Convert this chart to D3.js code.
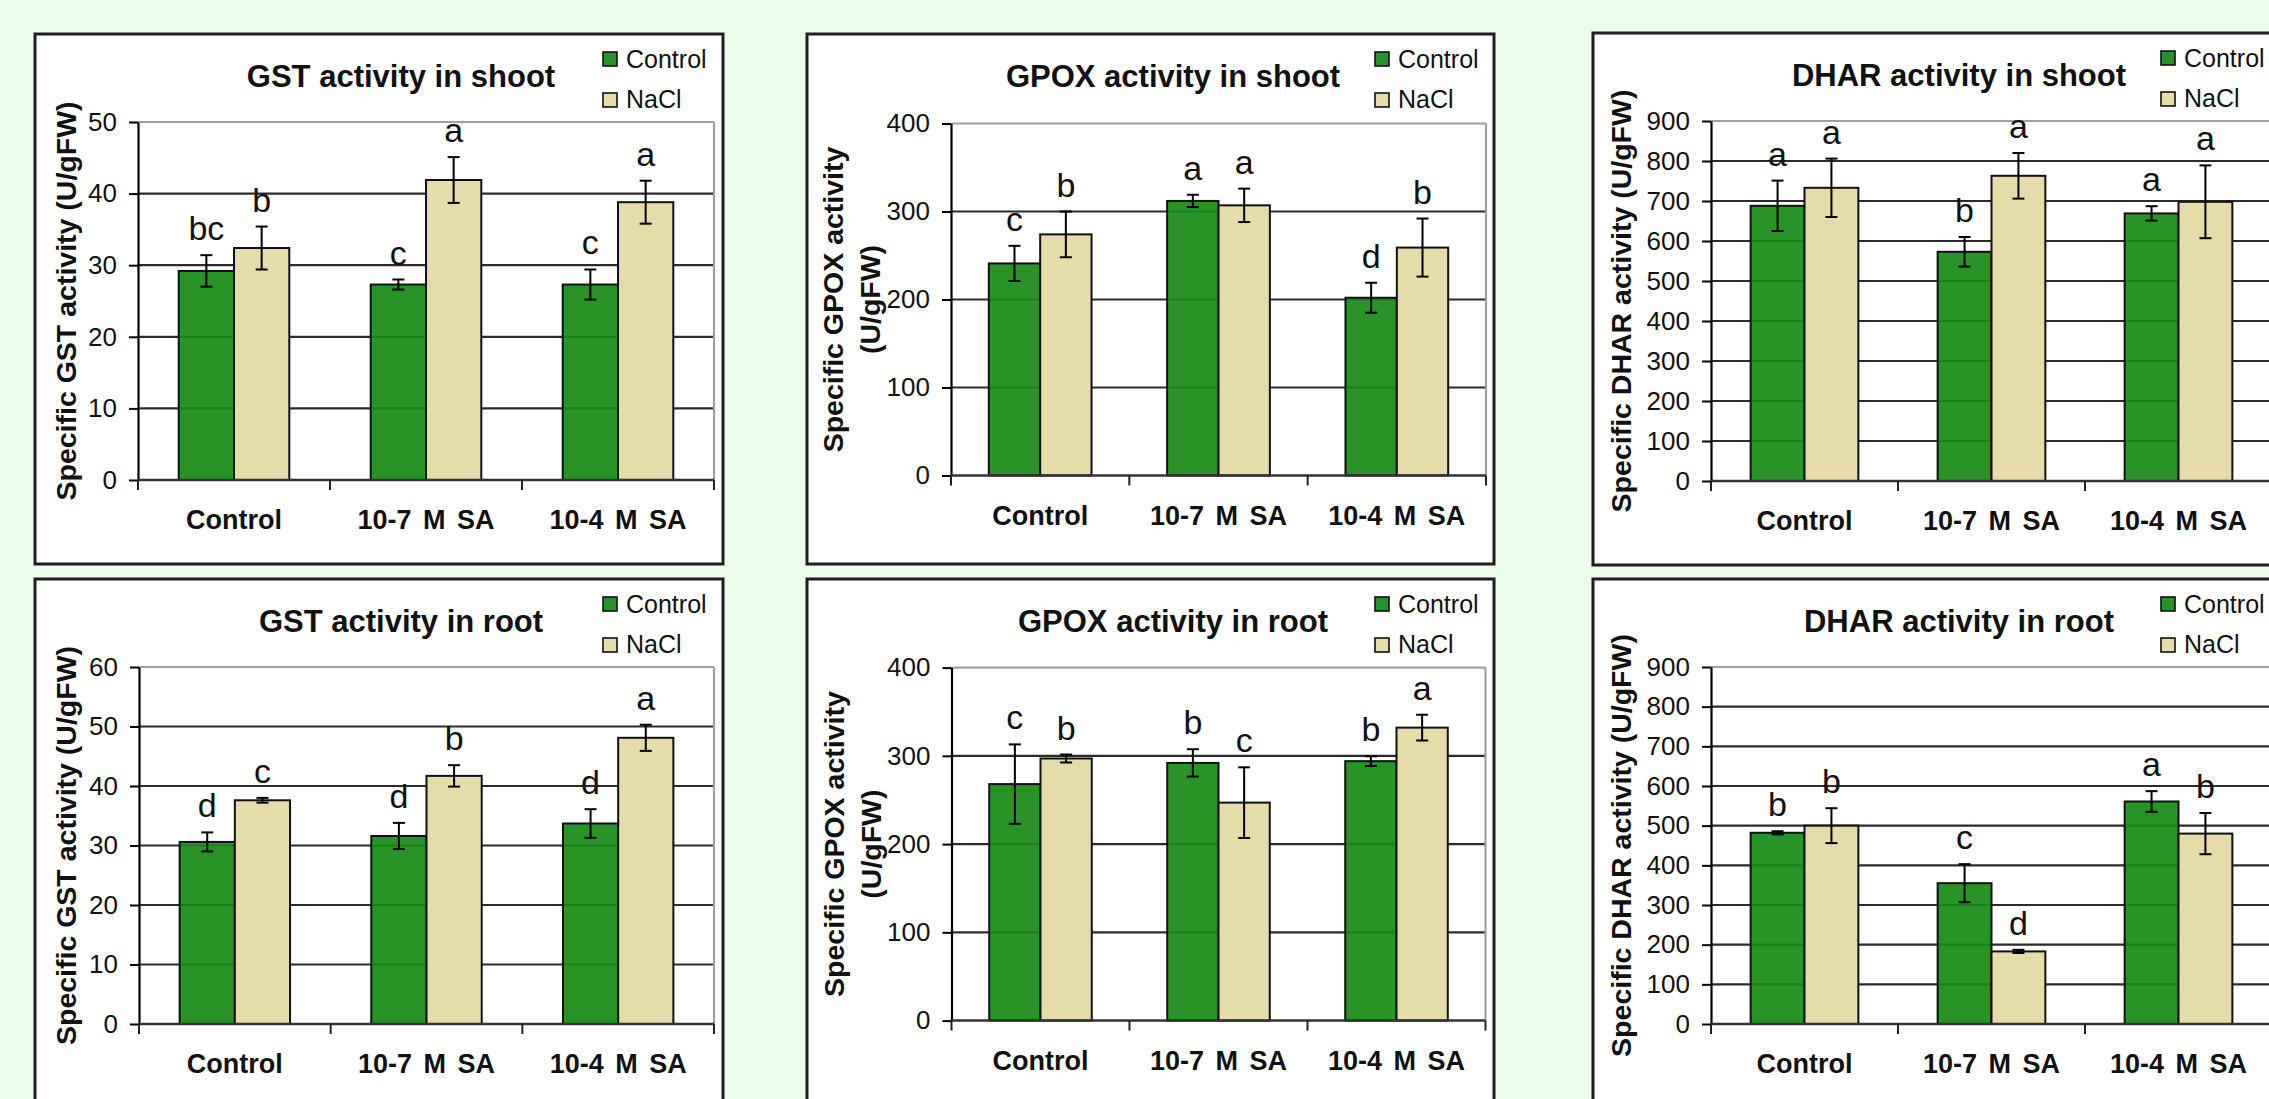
<!DOCTYPE html>
<html><head><meta charset="utf-8">
<script src="https://cdn.jsdelivr.net/npm/d3@7"></script>
<style>
html,body{margin:0;padding:0;background:#ebfcea;overflow:hidden;}
svg{display:block;}
text{font-family:"Liberation Sans", Arial, Helvetica, sans-serif;}
</style></head><body>
<svg id="chart" width="2269" height="1099"></svg>
<script>
// ---------- DATA ----------
const categories = ["Control", "10-7 M SA", "10-4 M SA"];
const seriesNames = ["Control", "NaCl"];

// GST activity in shoot
const gstShootTicks = [0, 10, 20, 30, 40, 50];
const gstShootControl = [29.2, 27.3, 27.3];
const gstShootNaCl = [32.4, 41.9, 38.8];
const gstShootControlErr = [2.2, 0.7, 2.1];
const gstShootNaClErr = [3.0, 3.2, 3.0];
const gstShootControlLetters = ["bc", "c", "c"];
const gstShootNaClLetters = ["b", "a", "a"];

// GPOX activity in shoot
const gpoxShootTicks = [0, 100, 200, 300, 400];
const gpoxShootControl = [241, 312, 202];
const gpoxShootNaCl = [274, 307, 259];
const gpoxShootControlErr = [20, 7, 17];
const gpoxShootNaClErr = [26, 19, 33];
const gpoxShootControlLetters = ["c", "a", "d"];
const gpoxShootNaClLetters = ["b", "a", "b"];

// DHAR activity in shoot
const dharShootTicks = [0, 100, 200, 300, 400, 500, 600, 700, 800, 900];
const dharShootControl = [688, 573, 669];
const dharShootNaCl = [733, 763, 698];
const dharShootControlErr = [63, 37, 18];
const dharShootNaClErr = [73, 57, 91];
const dharShootControlLetters = ["a", "b", "a"];
const dharShootNaClLetters = ["a", "a", "a"];

// GST activity in root
const gstRootTicks = [0, 10, 20, 30, 40, 50, 60];
const gstRootControl = [30.6, 31.6, 33.7];
const gstRootNaCl = [37.6, 41.7, 48.1];
const gstRootControlErr = [1.6, 2.2, 2.4];
const gstRootNaClErr = [0.4, 1.8, 2.2];
const gstRootControlLetters = ["d", "d", "d"];
const gstRootNaClLetters = ["c", "b", "a"];

// GPOX activity in root
const gpoxRootTicks = [0, 100, 200, 300, 400];
const gpoxRootControl = [268, 292, 294];
const gpoxRootNaCl = [297, 247, 332];
const gpoxRootControlErr = [45, 15.5, 5.5];
const gpoxRootNaClErr = [4.5, 40, 14.6];
const gpoxRootControlLetters = ["c", "b", "b"];
const gpoxRootNaClLetters = ["b", "c", "a"];

// DHAR activity in root
const dharRootTicks = [0, 100, 200, 300, 400, 500, 600, 700, 800, 900];
const dharRootControl = [482, 355, 561];
const dharRootNaCl = [500, 183, 480];
const dharRootControlErr = [4, 48, 26];
const dharRootNaClErr = [44, 4, 52];
const dharRootControlLetters = ["b", "c", "a"];
const dharRootNaClLetters = ["b", "d", "b"];

const titles = ["GST activity in shoot", "GPOX activity in shoot", "DHAR activity in shoot",
                "GST activity in root", "GPOX activity in root", "DHAR activity in root"];
const yLabels = [
  ["Specific GST activity (U/gFW)"],
  ["Specific GPOX activity", "(U/gFW)"],
  ["Specific DHAR activity (U/gFW)"],
  ["Specific GST activity (U/gFW)"],
  ["Specific GPOX activity", "(U/gFW)"],
  ["Specific DHAR activity (U/gFW)"]
];

// ---------- LAYOUT ----------
const layout = [
  {frame:{x:35, y:34, w:688, h:530},  plot:{x:138, y:122, w:576, h:358},   yl:[-62]},
  {frame:{x:807, y:34, w:687, h:530}, plot:{x:951, y:123.5, w:535, h:352}, yl:[-108, -71]},
  {frame:{x:1593, y:33, w:760, h:532},plot:{x:1711, y:121, w:561, h:360},  yl:[-80]},
  {frame:{x:35, y:579, w:688, h:600}, plot:{x:139, y:667, w:575, h:357},   yl:[-63]},
  {frame:{x:807, y:579, w:687, h:600},plot:{x:951.5, y:667.6, w:534, h:353}, yl:[-108, -71]},
  {frame:{x:1593, y:579, w:760, h:600},plot:{x:1711, y:667, w:561, h:357}, yl:[-80]}
];

const panelData = [
  {ticks:gstShootTicks, c:gstShootControl, n:gstShootNaCl, ce:gstShootControlErr, ne:gstShootNaClErr, cl:gstShootControlLetters, nl:gstShootNaClLetters},
  {ticks:gpoxShootTicks, c:gpoxShootControl, n:gpoxShootNaCl, ce:gpoxShootControlErr, ne:gpoxShootNaClErr, cl:gpoxShootControlLetters, nl:gpoxShootNaClLetters},
  {ticks:dharShootTicks, c:dharShootControl, n:dharShootNaCl, ce:dharShootControlErr, ne:dharShootNaClErr, cl:dharShootControlLetters, nl:dharShootNaClLetters},
  {ticks:gstRootTicks, c:gstRootControl, n:gstRootNaCl, ce:gstRootControlErr, ne:gstRootNaClErr, cl:gstRootControlLetters, nl:gstRootNaClLetters},
  {ticks:gpoxRootTicks, c:gpoxRootControl, n:gpoxRootNaCl, ce:gpoxRootControlErr, ne:gpoxRootNaClErr, cl:gpoxRootControlLetters, nl:gpoxRootNaClLetters},
  {ticks:dharRootTicks, c:dharRootControl, n:dharRootNaCl, ce:dharRootControlErr, ne:dharRootNaClErr, cl:dharRootControlLetters, nl:dharRootNaClLetters}
];

const colors = {Control:"#178a15", NaCl:"#e6dcaa"};
const legendColors = {Control:"#2a922a", NaCl:"#e6dcaa"};
const svg = d3.select("#chart");

panelData.forEach((pd, idx) => {
  const L = layout[idx];
  const f = L.frame, p = L.plot;
  const g = svg.append("g");

  g.append("rect").attr("x", f.x).attr("y", f.y).attr("width", f.w).attr("height", f.h)
    .attr("fill", "#fff").attr("stroke", "#1e1e1e").attr("stroke-width", 3);

  const ymax = d3.max(pd.ticks);
  const y = d3.scaleLinear().domain([0, ymax]).range([p.y + p.h, p.y]);
  const x0 = d3.scaleBand().domain(categories).range([p.x, p.x + p.w]).paddingInner(0).paddingOuter(0);
  const x1 = d3.scaleBand().domain(seriesNames).range([0, x0.bandwidth()]).paddingInner(0).paddingOuter(0.736);

  // gridlines
  g.selectAll(".grid").data(pd.ticks.filter(t => t > 0)).join("line")
    .attr("x1", p.x).attr("x2", p.x + p.w)
    .attr("y1", d => y(d)).attr("y2", d => y(d))
    .attr("stroke", d => d === ymax ? "#a0a0a0" : "#2b2b2b")
    .attr("stroke-width", 2.2);
  // right border
  g.append("line").attr("x1", p.x + p.w).attr("x2", p.x + p.w).attr("y1", y(ymax)).attr("y2", y(0))
    .attr("stroke", "#a0a0a0").attr("stroke-width", 2.2);

  // bars
  const rows = [];
  categories.forEach((cat, i) => {
    rows.push({cat, s:"Control", v:pd.c[i], e:pd.ce[i], l:pd.cl[i]});
    rows.push({cat, s:"NaCl", v:pd.n[i], e:pd.ne[i], l:pd.nl[i]});
  });
  g.selectAll(".bar").data(rows).join("rect")
    .attr("x", d => x0(d.cat) + x1(d.s))
    .attr("width", x1.bandwidth())
    .attr("y", d => y(d.v))
    .attr("height", d => y(0) - y(d.v))
    .attr("fill", d => colors[d.s])
    .attr("fill-opacity", d => d.s === "Control" ? 0.92 : 1)
    .attr("stroke", "#111").attr("stroke-width", 2);

  // error bars
  const cx = d => x0(d.cat) + x1(d.s) + x1.bandwidth() / 2;
  const eg = g.selectAll(".err").data(rows).join("g");
  eg.append("line").attr("x1", cx).attr("x2", cx)
    .attr("y1", d => y(d.v + d.e)).attr("y2", d => y(d.v - d.e))
    .attr("stroke", "#000").attr("stroke-width", 2);
  eg.append("line").attr("x1", d => cx(d) - 6).attr("x2", d => cx(d) + 6)
    .attr("y1", d => y(d.v + d.e)).attr("y2", d => y(d.v + d.e))
    .attr("stroke", "#000").attr("stroke-width", 2);
  eg.append("line").attr("x1", d => cx(d) - 6).attr("x2", d => cx(d) + 6)
    .attr("y1", d => y(d.v - d.e)).attr("y2", d => y(d.v - d.e))
    .attr("stroke", "#000").attr("stroke-width", 2);

  // significance letters
  g.selectAll(".let").data(rows).join("text")
    .attr("x", cx).attr("y", d => y(d.v + d.e) - 15)
    .attr("text-anchor", "middle").attr("font-size", 34).attr("fill", "#111")
    .text(d => d.l);

  // y axis
  const ya = g.append("g").attr("transform", `translate(${p.x},0)`)
    .call(d3.axisLeft(y).tickValues(pd.ticks).tickSize(9).tickSizeOuter(0).tickPadding(12).tickFormat(d3.format("d")));
  ya.select(".domain").attr("stroke", "#000").attr("stroke-width", 2.2);
  ya.selectAll(".tick line").attr("stroke", "#000").attr("stroke-width", 2);
  ya.selectAll(".tick text").attr("font-size", 26).attr("fill", "#111")
    .style("font-family", '"Liberation Sans", Arial, sans-serif');

  // x axis line + boundary ticks
  g.append("line").attr("x1", p.x).attr("x2", p.x + p.w).attr("y1", y(0)).attr("y2", y(0))
    .attr("stroke", "#333").attr("stroke-width", 2.5);
  const bounds = categories.map(c => x0(c)).concat([x0(categories[categories.length - 1]) + x0.bandwidth()]);
  g.selectAll(".xt").data(bounds).join("line")
    .attr("x1", d => d).attr("x2", d => d).attr("y1", y(0)).attr("y2", y(0) + 10)
    .attr("stroke", "#222").attr("stroke-width", 2);
  g.selectAll(".xl").data(categories).join("text")
    .attr("x", d => x0(d) + x0.bandwidth() / 2).attr("y", y(0) + 49)
    .attr("text-anchor", "middle").attr("font-size", 27).attr("font-weight", "bold")
    .attr("fill", "#111").style("word-spacing", "4px")
    .text(d => d);

  // title
  g.append("text").attr("x", f.x + 366).attr("y", f.y + 53)
    .attr("text-anchor", "middle").attr("font-size", 31).attr("font-weight", "bold").attr("fill", "#111")
    .text(titles[idx]);

  // y label
  const cy = p.y + p.h / 2;
  yLabels[idx].forEach((txt, li) => {
    const bx = p.x + L.yl[li];
    g.append("text").attr("transform", `translate(${bx},${cy}) rotate(-90)`)
      .attr("text-anchor", "middle").attr("font-size", 28.5).attr("font-weight", "bold").attr("fill", "#111")
      .text(txt);
  });

  // legend
  seriesNames.forEach((s, si) => {
    g.append("rect").attr("x", f.x + 568).attr("y", f.y + 18 + si * 41).attr("width", 14).attr("height", 14)
      .attr("fill", legendColors[s]).attr("stroke", "#111").attr("stroke-width", 1.6);
    g.append("text").attr("x", f.x + 591).attr("y", f.y + 34 + si * 40)
      .attr("font-size", 25).attr("fill", "#111").text(s);
  });
});
</script>
</body></html>
